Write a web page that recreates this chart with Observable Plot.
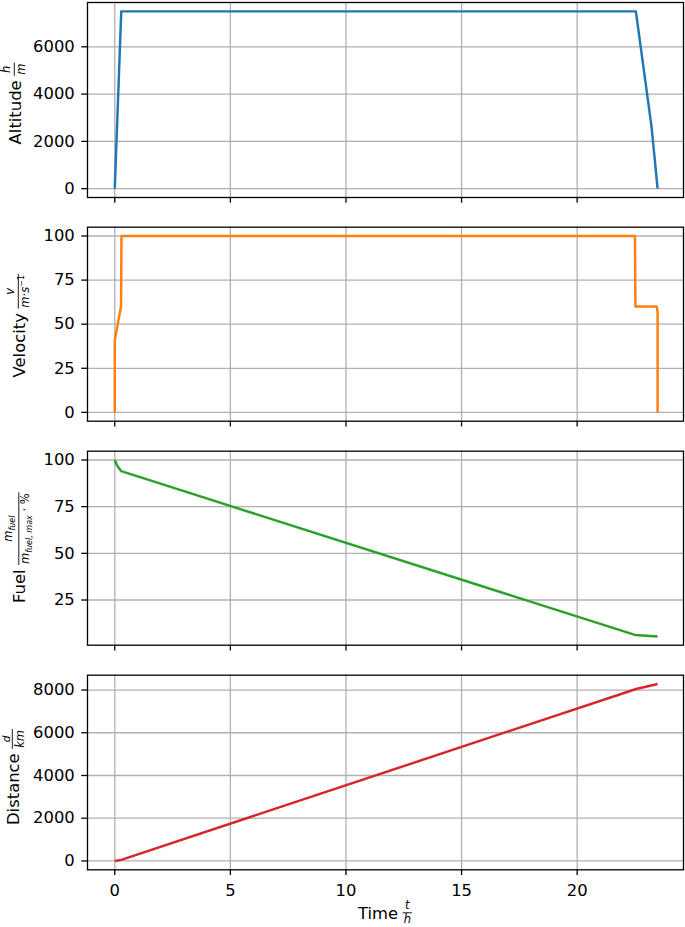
<!DOCTYPE html>
<html>
<head>
<meta charset="utf-8">
<script src="https://cdn.jsdelivr.net/npm/d3@7"></script>
<script src="https://cdn.jsdelivr.net/npm/@observablehq/plot@0.6"></script>
<style>
  html, body { margin: 0; padding: 0; background: white; }
  #chart { width: 685px; height: 927px; position: relative; overflow: hidden; background: white; }
  #chart svg { display: block; }
</style>
</head>
<body>
<div id="chart"></div>
<script>
// ---- data ----
const altT = [0, 0.28, 22.54, 23.22, 23.48];
const altH = [0, 7500, 7500, 2600, 0];

const velT = [0, 0, 0.27, 0.29, 22.5, 22.52, 23.44, 23.48, 23.48];
const velV = [0, 41, 60, 100, 100, 60, 60, 57, 0];

const fuelT = [0, 0.1, 0.28, 22.5, 23.48];
const fuelP = [100, 97, 94, 6.3, 5.5];

const distT = [0, 0.28, 22.55, 23.48];
const distD = [0, 50, 8050, 8280];

const xTicks = [0, 5, 10, 15, 20];
const altTicks = [0, 2000, 4000, 6000];
const velTicks = [0, 25, 50, 75, 100];
const fuelTicks = [25, 50, 75, 100];
const distTicks = [0, 2000, 4000, 6000, 8000];

const colors = ["#1f77b4", "#ff7f0e", "#2ca02c", "#d62728"];

const FONT = "DejaVu Sans";
const FS = 16.4;
const xDomain = [-1.18, 24.6];

const zip = (a, b) => a.map((t, i) => ({t, v: b[i]}));

function panel({data, color, yDomain, yTicks, height, mt, mb, showX}) {
  return Plot.plot({
    width: 685,
    height,
    marginLeft: 87,
    marginRight: 2,
    marginTop: mt,
    marginBottom: mb,
    style: {fontFamily: FONT, fontSize: FS + "px", color: "black", background: "white", overflow: "visible"},
    x: {domain: xDomain},
    y: {domain: yDomain},
    marks: [
      Plot.gridX(xTicks, {stroke: "#b0b0b0", strokeOpacity: 1, strokeWidth: 1.3}),
      Plot.gridY(yTicks, {stroke: "#b0b0b0", strokeOpacity: 1, strokeWidth: 1.3}),
      Plot.line(data, {x: "t", y: "v", stroke: color, strokeWidth: 2.46, strokeLinecap: "butt"}),
      Plot.frame({stroke: "black", strokeWidth: 1.3}),
      Plot.axisX({ticks: xTicks, tickSize: 5.7, tickPadding: 9, strokeWidth: 1.3,
        tickFormat: showX ? (d => String(d)) : (() => ""), label: null}),
      Plot.axisY({ticks: yTicks, tickSize: 5.7, tickPadding: 7, strokeWidth: 1.3,
        tickFormat: d => String(d), label: null})
    ]
  });
}

const specs = [
  {data: zip(altT, altH), color: colors[0], yDomain: [-375, 7875], yTicks: altTicks, height: 224, mt: 2, mb: 27},
  {data: zip(velT, velV), color: colors[1], yDomain: [-5, 105], yTicks: velTicks, height: 224, mt: 2.7, mb: 27.3},
  {data: zip(fuelT, fuelP), color: colors[2], yDomain: [0.8, 104.7], yTicks: fuelTicks, height: 224, mt: 2.7, mb: 27.3},
  {data: zip(distT, distD), color: colors[3], yDomain: [-414, 8694], yTicks: distTicks, height: 255, mt: 2.7, mb: 57.7, showX: true}
];

const container = document.getElementById("chart");
const svgs = specs.map(s => {
  const p = panel(s);
  container.appendChild(p);
  return p;
});

// ---- math-like labels ----
const FR = 11.5; // fraction font size
const SUB = 8;   // subscript size
const ctx = document.createElement("canvas").getContext("2d");
function measure(s, size, italic) {
  ctx.font = `${italic ? "italic " : ""}${size}px "${FONT}"`;
  return ctx.measureText(s).width;
}
function runsWidth(runs) {
  return runs.reduce((a, r) => a + measure(r.s, r.size || FR, r.italic), 0);
}
function drawRuns(g, runs, x, y) {
  let cx = x;
  for (const r of runs) {
    const size = r.size || FR;
    g.append("text")
      .attr("x", cx).attr("y", y + (r.off || 0))
      .attr("font-family", FONT)
      .attr("font-size", size)
      .attr("font-style", r.italic ? "italic" : "normal")
      .attr("fill", "black")
      .style("white-space", "pre")
      .text(r.s);
    cx += measure(r.s, size, r.italic);
  }
}

function label(svg, {word, num, den, numDrop = 0, denRise = 10, rotate = true, x, y}) {
  const g = d3.select(svg).append("g")
    .attr("text-anchor", "start")
    .attr("transform", rotate ? `translate(${x},${y}) rotate(-90)` : `translate(${x},${y})`);
  const ww = measure(word, FS, false);
  const gap = 4.5;
  const nw = runsWidth(num);
  const dw = runsWidth(den);
  const fw = Math.max(nw, dw) + 2;
  const total = ww + gap + fw;
  const x0 = -total / 2;
  const bar = -6.2;
  g.append("text").text(word)
    .attr("x", x0).attr("y", 0)
    .attr("font-family", FONT).attr("font-size", FS).attr("fill", "black");
  const fx = x0 + ww + gap;
  drawRuns(g, num, fx + (fw - nw) / 2, bar - 4 - numDrop);
  drawRuns(g, den, fx + (fw - dw) / 2, bar + denRise);
  g.append("line")
    .attr("x1", fx).attr("x2", fx + fw)
    .attr("y1", bar).attr("y2", bar)
    .attr("stroke", "black").attr("stroke-width", 0.9);
}

// y labels (panel centers in each svg's coords)
label(svgs[0], {word: "Altitude", num: [{s: "h", italic: true}], den: [{s: "m", italic: true}],
  denRise: 10.5, x: 20.5, y: (2 + 197) / 2 + 4});
label(svgs[1], {word: "Velocity",
  num: [{s: "v", italic: true}],
  den: [{s: "m", italic: true}, {s: "·"}, {s: "s", italic: true}, {s: "−1", size: SUB, off: -4.5}],
  denRise: 10.5, x: 24.5, y: (2.7 + 196.7) / 2 + 2});
label(svgs[2], {word: "Fuel",
  num: [{s: "m", italic: true}, {s: "fuel", italic: true, size: SUB, off: 2.5}],
  den: [{s: "m", italic: true}, {s: "fuel, max", italic: true, size: SUB, off: 2.5}, {s: " · %"}],
  numDrop: 2.5, denRise: 10.5, x: 25, y: (2.7 + 196.7) / 2});
label(svgs[3], {word: "Distance",
  num: [{s: "d", italic: true, size: 10.5}],
  den: [{s: "km", italic: true}],
  numDrop: -1.2, denRise: 11.5, x: 18.5, y: (2.7 + 197.3) / 2 + 5});

// x label
label(svgs[3], {word: "Time",
  num: [{s: "t", italic: true}],
  den: [{s: "h", italic: true}],
  denRise: 10.5, rotate: false, x: 385, y: 247});
</script>
</body>
</html>
